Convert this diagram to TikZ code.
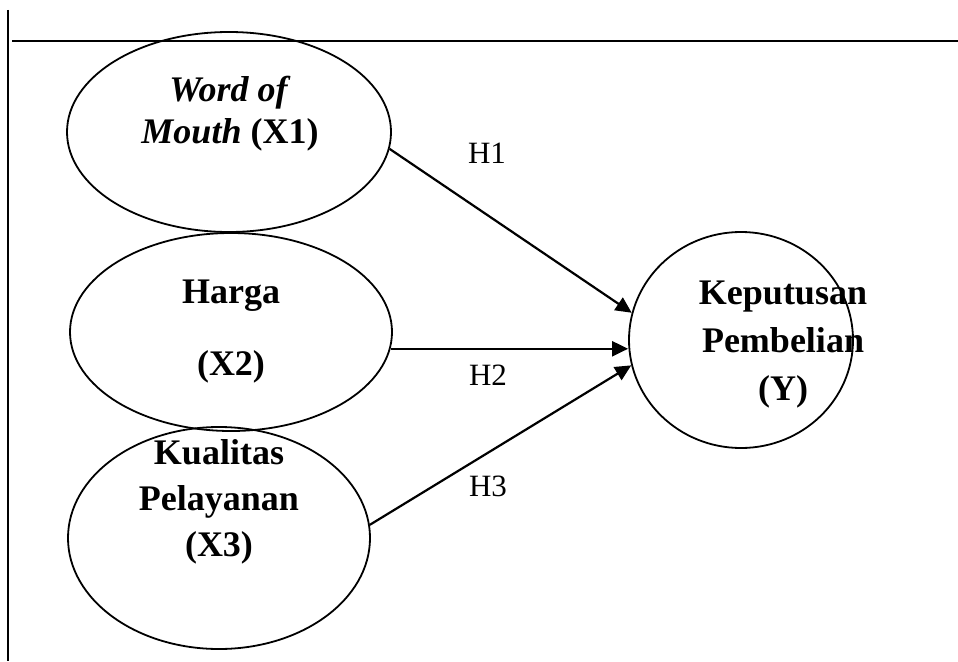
\documentclass[tikz,border=0pt]{standalone}
\usepackage{fontspec}
\setmainfont{Liberation Serif}
\usetikzlibrary{
  arrows.meta,
  shapes.geometric,
  positioning
}

\begin{document}
\begin{tikzpicture}[x=1pt,y=-1pt,
    var/.style={draw,ellipse,line width=1.8pt,inner sep=0pt},
    lbl/.style={align=center,font=\fontsize{36}{46}\selectfont\bfseries},
    hyp/.style={anchor=base,font=\fontsize{31}{36}\selectfont},
    arr/.style={line width=2.2pt,-{Triangle[length=16pt,width=15pt]}}]
      \useasboundingbox (0,0) rectangle (958,661);

      % frame lines
      \draw[line width=1.6pt] (8,10) -- (8,661);
      \draw[line width=1.6pt] (12,41) -- (958,41);

      % variables
      \path (229,132) node[var,minimum width=324pt,minimum height=200pt] (x1) {};
      \path (231,332) node[var,minimum width=322pt,minimum height=198pt] (x2) {};
      \path (219,538) node[var,minimum width=302pt,minimum height=222pt] (x3) {};
      \path (741,340) node[var,minimum width=224pt,minimum height=216pt] (y) {};

      \path (230,114) node[lbl,font=\fontsize{36}{42}\selectfont\bfseries] (x1text)
        {\textit{Word of}\\\textit{Mouth} (X1)};
      \path (231,332) node[lbl] (x2text) {Harga\\[26pt](X2)};
      \path (219,502) node[lbl] (x3text) {Kualitas\\Pelayanan\\(X3)};
      \path (783,345) node[lbl,font=\fontsize{36}{48}\selectfont\bfseries] (ytext)
        {Keputusan\\Pembelian\\(Y)};

      % hypotheses
      \draw[arr] (x1.-6) -- (y.166);
      \draw[arr] (x2.-6) -- (x2.-6 -| y.west);
      \draw[arr] (x3.5) -- (y.193);
      \path (487,163) node[hyp] (h1) {H1};
      \path (488,385) node[hyp] (h2) {H2};
      \path (488,496) node[hyp] (h3) {H3};
\end{tikzpicture}
\end{document}
